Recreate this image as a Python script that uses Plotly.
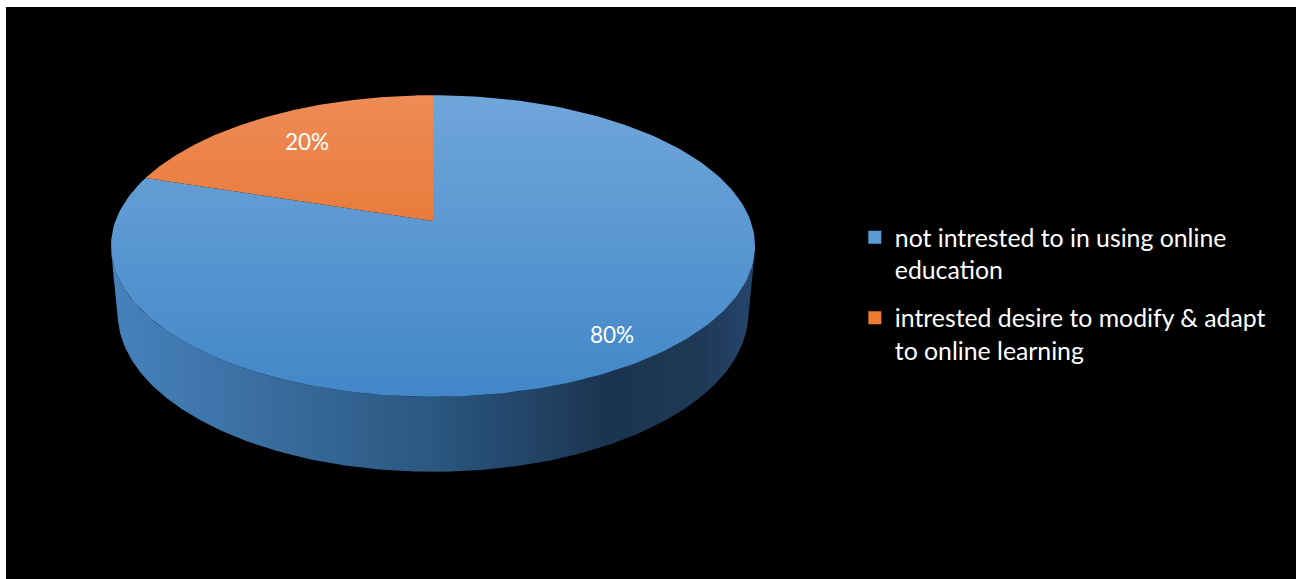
import numpy as np
import plotly.graph_objects as go

# ---- data -------------------------------------------------------------
categories = [
    "not intrested to in using online education",
    "intrested desire to modify & adapt to online learning",
]
legend_labels = [
    "not intrested to in using online<br>education",
    "intrested desire to modify & adapt<br>to online learning",
]
values = [80, 20]

# ---- styling ----------------------------------------------------------
TOP_SHADES = [("#6fa6da", "#4287c8"), ("#ee8b56", "#e2671b")]   # top-face gradient
SWATCH = ["#5b9bd5", "#ed7d31"]
SIDE_SCALE = [[0.0, "#4681bd"], [0.25, "#396c9d"], [0.5, "#2b5781"],
              [0.78, "#1b3450"], [0.92, "#1e3856"], [1.0, "#25446a"]]
LABEL_RADIUS = [0.85, 0.74]
FONT = "Lato, 'Open Sans', sans-serif"

# ---- 3-D pie camera (screen space in pixels) -------------------------
CX, CY = 433.0, 221.0          # where the pie centre lands
FOCAL = 1700.7
DIST = 5.355
TILT = np.radians(27.5)
THICK = 0.2407                  # pie height relative to the radius


def project(x, y, z):
    X = x
    Y = y * np.sin(TILT) + z * np.cos(TILT)
    Z = y * np.cos(TILT) - z * np.sin(TILT) + DIST
    return CX + FOCAL * X / Z, CY - FOCAL * Y / Z


def rim(a0, a1, z, n=200):
    # angle measured clockwise from 12 o'clock
    a = np.linspace(a0, a1, n)
    return project(np.sin(a), np.cos(a), np.full_like(a, z))


fig = go.Figure()

total = float(sum(values))
bounds = np.concatenate([[0.0], np.cumsum(values) / total * 2 * np.pi])

# the part of the side wall that faces the viewer
c_sil = -1.0 / (DIST * np.cos(TILT))
vis0, vis1 = np.arccos(c_sil), 2 * np.pi - np.arccos(c_sil)
wall_x0, _ = project(np.sin(vis1), np.cos(vis1), -THICK)
wall_x1, _ = project(np.sin(vis0), np.cos(vis0), -THICK)

# side walls
for i in range(len(values)):
    a0, a1 = max(bounds[i], vis0), min(bounds[i + 1], vis1)
    if a1 <= a0:
        continue
    tx, ty = rim(a0, a1, 0.0)
    bx, by = rim(a0, a1, -THICK)
    xs = np.concatenate([tx, bx[::-1], tx[:1]])
    ys = np.concatenate([ty, by[::-1], ty[:1]])
    fig.add_trace(go.Scatter(
        x=xs, y=ys, mode="lines", fill="toself",
        line=dict(width=0), hoverinfo="skip", showlegend=False,
        fillgradient=dict(type="horizontal", colorscale=SIDE_SCALE,
                          start=min(wall_x0, wall_x1), stop=max(wall_x0, wall_x1)),
    ))

# top faces
_, top_y = project(0.0, 1.0, 0.0)
_, bot_y = project(0.0, -1.0, 0.0)
for i in range(len(values)):
    ax, ay = rim(bounds[i], bounds[i + 1], 0.0)
    xs = np.concatenate([[CX], ax, [CX]])
    ys = np.concatenate([[CY], ay, [CY]])
    c_top, c_bot = TOP_SHADES[i]
    fig.add_trace(go.Scatter(
        x=xs, y=ys, mode="lines", fill="toself",
        line=dict(width=0), hoverinfo="skip", showlegend=False,
        fillgradient=dict(type="vertical",
                          colorscale=[[0, c_top], [1, c_bot]],
                          start=top_y, stop=bot_y),
    ))

# percentage labels
for i in range(len(values)):
    mid = (bounds[i] + bounds[i + 1]) / 2
    r = LABEL_RADIUS[i]
    lx, ly = project(r * np.sin(mid), r * np.cos(mid), 0.0)
    fig.add_annotation(x=lx, y=ly, text=f"{values[i] / total:.0%}",
                       showarrow=False, font=dict(color="white", size=22.5, family=FONT))

# legend entries
for i in range(len(values)):
    fig.add_trace(go.Scatter(
        x=[None], y=[None], mode="markers", name=legend_labels[i],
        legendgroup=categories[i],
        marker=dict(symbol="square", size=13, color=SWATCH[i]),
    ))

fig.update_layout(
    width=1296, height=579,
    margin=dict(l=6, r=0, t=7, b=0),
    paper_bgcolor="white", plot_bgcolor="black",
    xaxis=dict(range=[6, 1296], visible=False, fixedrange=True),
    yaxis=dict(range=[579, 7], visible=False, fixedrange=True),
    showlegend=True,
    legend=dict(
        x=0.658, y=0.637, xanchor="left", yanchor="top",
        bgcolor="rgba(0,0,0,0)", font=dict(color="white", size=24.8, family=FONT),
        valign="top", traceorder="grouped", tracegroupgap=13,
    ),
)

fig.write_html("out.html")
